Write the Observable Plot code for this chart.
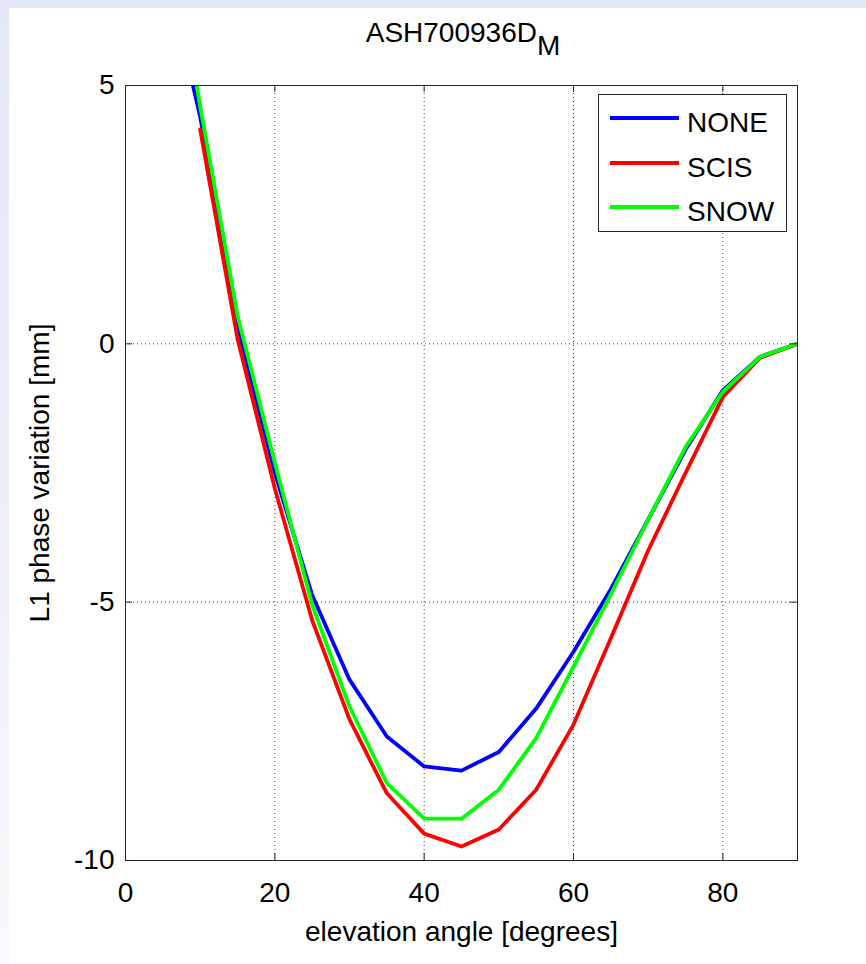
<!DOCTYPE html>
<html>
<head>
<meta charset="utf-8">
<script src="https://cdn.jsdelivr.net/npm/d3@7"></script>
<script src="https://cdn.jsdelivr.net/npm/@observablehq/plot@0.6"></script>
<style>
  html, body { margin: 0; padding: 0; background: #fff; }
  #wrap {
    position: relative; width: 866px; height: 964px; overflow: hidden;
    background: #fff;
    font-family: "Liberation Sans", Arial, sans-serif;
  }
  #bgtop { position: absolute; left: 0; top: 0; width: 866px; height: 8px; background: #e4e7f5; }
  #bgleft { position: absolute; left: 0; top: 0; width: 9px; height: 964px;
    background: linear-gradient(to bottom, #e4e7f5 0%, #eceef8 50%, #f8f9fc 100%); }
  #chart { position: absolute; left: 0; top: 0; }
  #title { position: absolute; left: 0; width: 866px; top: 17px; text-align: center;
    font-size: 28px; color: #000; padding-left: 60px; box-sizing: border-box; }
  #title sub { font-size: 28px; vertical-align: -13px; line-height: 0; }
  #legend { position: absolute; left: 598px; top: 94px; width: 189px; height: 138px;
    border: 1px solid #262626; background: #fff; box-sizing: border-box; }
  .li { position: absolute; left: 0; height: 30px; width: 188px; }
  .li .sw { position: absolute; left: 11px; width: 69px; height: 4px; top: 12px; }
  .li .lb { position: absolute; left: 88px; top: 4px; font-size: 28px; line-height: 30px; color: #000; }
</style>
</head>
<body>
<div id="wrap">
  <div id="bgtop"></div>
  <div id="bgleft"></div>
  <div id="chart"></div>
  <div id="title">ASH700936D<sub>M</sub></div>
  <div id="legend"></div>
</div>
<script>
// ---- data ----
const angles = [5, 10, 15, 20, 25, 30, 35, 40, 45, 50, 55, 60, 65, 70, 75, 80, 85, 90];
const anglesScis = [10, 15, 20, 25, 30, 35, 40, 45, 50, 55, 60, 65, 70, 75, 80, 85, 90];
const noneValues = [7.5, 4.4, 0.35, -2.5, -4.86, -6.5, -7.6, -8.18, -8.26, -7.9, -7.06, -5.96, -4.75, -3.4, -2.05, -0.9, -0.25, 0];
const scisValues = [4.15, 0.1, -2.8, -5.35, -7.27, -8.7, -9.48, -9.73, -9.4, -8.63, -7.37, -5.7, -4.0, -2.5, -1.03, -0.27, 0];
const snowValues = [9.0, 4.6, 0.55, -2.3, -5.05, -7.02, -8.5, -9.19, -9.19, -8.63, -7.63, -6.25, -4.85, -3.4, -2.0, -0.93, -0.25, 0];
const seriesNames = ["NONE", "SCIS", "SNOW"];
const seriesColors = ["#0000ff", "#ff0000", "#00ff00"];
const xTicks = [0, 20, 40, 60, 80];
const yTicks = [5, 0, -5, -10];
const xGrid = [20, 40, 60, 80];
const yGrid = [0, -5];
const xLabel = "elevation angle [degrees]";
const yLabel = "L1 phase variation [mm]";

const toRows = (xs, ys, name) => xs.map((x, i) => ({x, y: ys[i], name}));
const rows = [
  ...toRows(angles, noneValues, seriesNames[0]),
  ...toRows(anglesScis, scisValues, seriesNames[1]),
  ...toRows(angles, snowValues, seriesNames[2])
];

const W = 866, H = 964;
const mL = 125, mR = 69, mT = 85, mB = 104;
const fw = W - mL - mR, fh = H - mT - mB;
const font = '"Liberation Sans", Arial, sans-serif';
const fmt = d => String(d);

const chart = Plot.plot({
  width: W, height: H,
  marginLeft: mL, marginRight: mR, marginTop: mT, marginBottom: mB,
  style: {background: "transparent", fontFamily: font, color: "#000"},
  x: {domain: [0, 90]},
  y: {domain: [-10, 5]},
  color: {domain: seriesNames, range: seriesColors},
  marks: [
    Plot.gridX(xGrid, {stroke: "#000", strokeOpacity: 0.75, strokeDasharray: "1,3"}),
    Plot.gridY(yGrid, {stroke: "#000", strokeOpacity: 0.75, strokeDasharray: "1,3"}),
    Plot.line(rows, {x: "x", y: "y", z: "name", stroke: "name", strokeWidth: 3.8, clip: true, strokeLinejoin: "round"}),
    Plot.tickX(xTicks, {x: d => d, insetTop: fh - 7, stroke: "#262626"}),
    Plot.tickX(xTicks, {x: d => d, insetBottom: fh - 7, stroke: "#262626"}),
    Plot.tickY(yTicks, {y: d => d, insetRight: fw - 7, stroke: "#262626"}),
    Plot.tickY(yTicks, {y: d => d, insetLeft: fw - 7, stroke: "#262626"}),
    Plot.frame({stroke: "#262626"}),
    Plot.axisX(xTicks, {tickSize: 0, tickPadding: 22, fontSize: 28, label: null, tickFormat: fmt}),
    Plot.axisY(yTicks, {tickSize: 0, tickPadding: 11, fontSize: 28, label: null, tickFormat: fmt}),
    Plot.text([xLabel], {text: d => d, frameAnchor: "bottom", dy: 80, fontSize: 28}),
    Plot.text([yLabel], {text: d => d, frameAnchor: "left", textAnchor: "middle", dx: -85, rotate: -90, fontSize: 28})
  ]
});
document.getElementById("chart").appendChild(chart);

// legend
const leg = document.getElementById("legend");
seriesNames.forEach((n, i) => {
  const d = document.createElement("div");
  d.className = "li";
  d.style.top = (9 + i * 44.5) + "px";
  d.innerHTML = `<div class="sw" style="background:${seriesColors[i]}"></div><div class="lb">${n}</div>`;
  leg.appendChild(d);
});
</script>
</body>
</html>
